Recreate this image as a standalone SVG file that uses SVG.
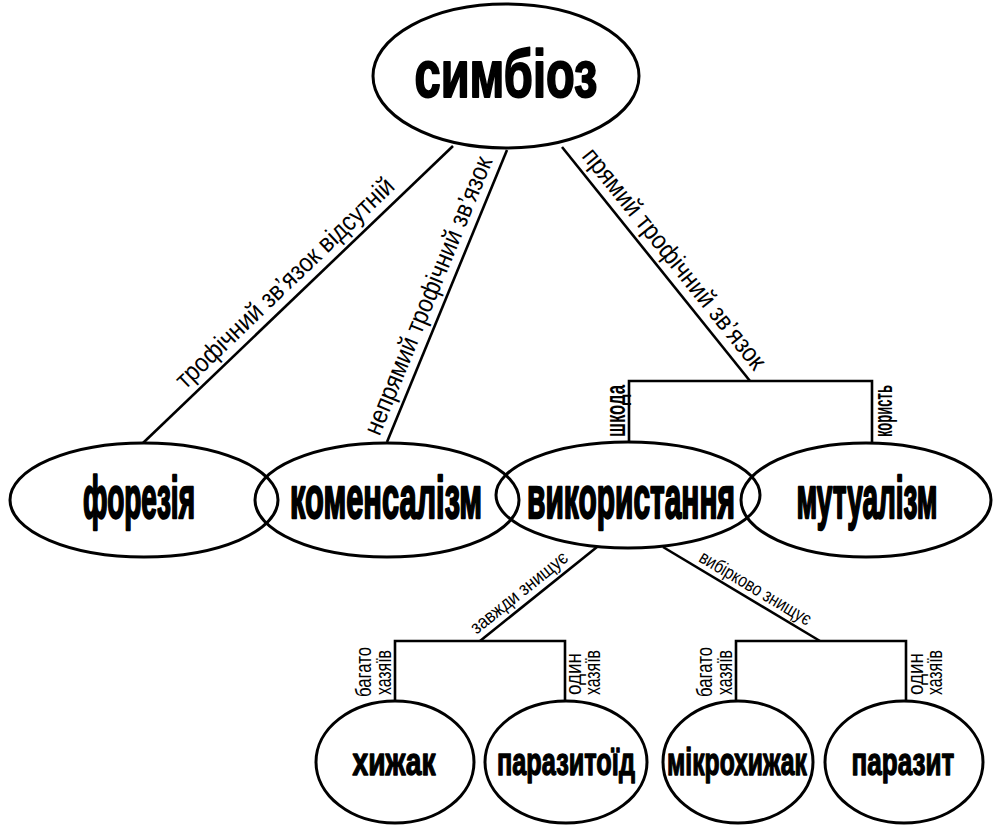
<svg xmlns="http://www.w3.org/2000/svg" width="994" height="825" viewBox="0 0 994 825">
<style>
.node ellipse{fill:#fff;stroke:#000;stroke-width:3}
.node ellipse.open{fill:none}
.h{font-family:"Liberation Sans","DejaVu Sans",sans-serif;font-weight:bold;fill:#000;stroke:#000;stroke-linejoin:round;text-anchor:middle}
.lbl{font-family:"Liberation Sans","DejaVu Sans",sans-serif;fill:#000}
.edges line,.edges polyline{fill:none;stroke:#000;stroke-width:2.6}
</style>
<rect width="994" height="825" fill="#fff"/>
<g class="edges" id="connectors">
<line x1="453" y1="146" x2="143" y2="443"/>
<line x1="507" y1="150" x2="387" y2="442"/>
<line x1="562" y1="147" x2="750" y2="381"/>
<polyline points="629,443 629,381 872,381 872,443"/>
<line x1="597" y1="547" x2="480" y2="641"/>
<line x1="663" y1="547" x2="820" y2="641"/>
<polyline points="395,701 395,641 565,641 565,701"/>
<polyline points="736,701 736,641 906,641 906,701"/>
<text class="lbl" font-size="26" textLength="292" lengthAdjust="spacingAndGlyphs" transform="translate(185.2,390.1) rotate(-43.8)">трофічний зв’язок відсутній</text>
<text class="lbl" font-size="26" textLength="298" lengthAdjust="spacingAndGlyphs" transform="translate(379.4,436.7) rotate(-67.66)">непрямий трофічний зв’язок</text>
<text class="lbl" font-size="26" textLength="276" lengthAdjust="spacingAndGlyphs" transform="translate(581.1,156.4) rotate(51.2)">прямий трофічний зв’язок</text>
<text class="lbl" font-size="27" font-weight="bold" textLength="52" lengthAdjust="spacingAndGlyphs" transform="translate(625,437) rotate(-90)">шкода</text>
<text class="lbl" font-size="26" font-weight="bold" textLength="52" lengthAdjust="spacingAndGlyphs" transform="translate(892,437) rotate(-90)">користь</text>
<text class="lbl" font-size="19" textLength="119" lengthAdjust="spacingAndGlyphs" transform="translate(476.6,634.7) rotate(-38.8)">завжди знищує</text>
<text class="lbl" font-size="19" textLength="127" lengthAdjust="spacingAndGlyphs" transform="translate(697.8,560.9) rotate(30.9)">вибірково знищує</text>
<text class="lbl" font-size="22" textLength="50" lengthAdjust="spacingAndGlyphs" transform="translate(371,697) rotate(-90)">багато</text>
<text class="lbl" font-size="22" textLength="45" lengthAdjust="spacingAndGlyphs" transform="translate(391,695) rotate(-90)">хазяїв</text>
<text class="lbl" font-size="22" textLength="42" lengthAdjust="spacingAndGlyphs" transform="translate(581,695) rotate(-90)">один</text>
<text class="lbl" font-size="22" textLength="45" lengthAdjust="spacingAndGlyphs" transform="translate(600,695) rotate(-90)">хазяїв</text>
<text class="lbl" font-size="22" textLength="50" lengthAdjust="spacingAndGlyphs" transform="translate(712,697) rotate(-90)">багато</text>
<text class="lbl" font-size="22" textLength="45" lengthAdjust="spacingAndGlyphs" transform="translate(732,695) rotate(-90)">хазяїв</text>
<text class="lbl" font-size="22" textLength="42" lengthAdjust="spacingAndGlyphs" transform="translate(923,695) rotate(-90)">один</text>
<text class="lbl" font-size="22" textLength="45" lengthAdjust="spacingAndGlyphs" transform="translate(942,695) rotate(-90)">хазяїв</text>
</g>
<g id="symbiosis" class="node">
<ellipse cx="506" cy="76" rx="133" ry="72"/>
<text class="h" font-size="66" stroke-width="2" textLength="249" lengthAdjust="spacingAndGlyphs" transform="translate(506,97) scale(0.735,1)">симбіоз</text>
</g>
<g id="foresy" class="node">
<ellipse class="open" cx="144" cy="500" rx="134" ry="57"/>
<text class="h" font-size="60" stroke-width="2.4" textLength="224" lengthAdjust="spacingAndGlyphs" transform="translate(139,518) scale(0.5,1)">форезія</text>
</g>
<g id="commensalism" class="node">
<ellipse class="open" cx="387" cy="500" rx="132" ry="57"/>
<text class="h" font-size="60" stroke-width="2.4" textLength="362" lengthAdjust="spacingAndGlyphs" transform="translate(386,518) scale(0.53,1)">коменсалізм</text>
</g>
<g id="usage" class="node">
<ellipse class="open" cx="628" cy="495" rx="132" ry="53"/>
<text class="h" font-size="60" stroke-width="2.4" textLength="400" lengthAdjust="spacingAndGlyphs" transform="translate(631,518) scale(0.52,1)">використання</text>
</g>
<g id="mutualism" class="node">
<ellipse class="open" cx="866" cy="500" rx="125" ry="57"/>
<text class="h" font-size="60" stroke-width="2.4" textLength="282" lengthAdjust="spacingAndGlyphs" transform="translate(867,518) scale(0.5,1)">мутуалізм</text>
</g>
<g id="predator" class="node">
<ellipse cx="395" cy="762" rx="79" ry="61"/>
<text class="h" font-size="39" stroke-width="1.4" textLength="118.6" lengthAdjust="spacingAndGlyphs" transform="translate(394,775) scale(0.7,1)">хижак</text>
</g>
<g id="parasitoid" class="node">
<ellipse cx="566" cy="762" rx="81" ry="61"/>
<text class="h" font-size="39" stroke-width="1.4" textLength="209" lengthAdjust="spacingAndGlyphs" transform="translate(566,775) scale(0.66,1)">паразитоїд</text>
</g>
<g id="micropredator" class="node">
<ellipse cx="738" cy="762" rx="75" ry="61"/>
<text class="h" font-size="39" stroke-width="1.4" textLength="222" lengthAdjust="spacingAndGlyphs" transform="translate(737,775) scale(0.63,1)">мікрохижак</text>
</g>
<g id="parasite" class="node">
<ellipse cx="904" cy="762" rx="79" ry="61"/>
<text class="h" font-size="39" stroke-width="1.4" textLength="149" lengthAdjust="spacingAndGlyphs" transform="translate(903,775) scale(0.69,1)">паразит</text>
</g>
</svg>
